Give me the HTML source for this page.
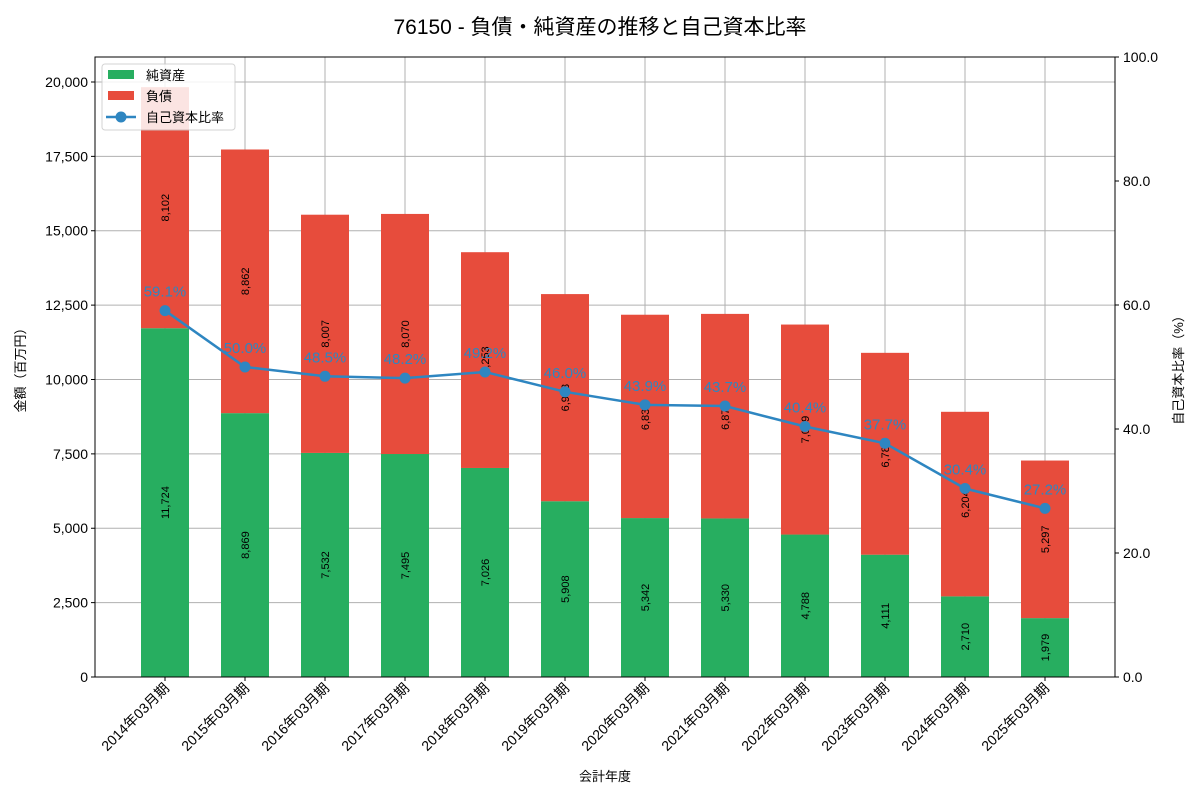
<!DOCTYPE html>
<html><head><meta charset="utf-8"><style>
body{margin:0;background:#fff;}
svg text{font-family:"Liberation Sans","Noto Sans CJK JP",sans-serif;}
</style></head><body>
<svg id="chart" width="1200" height="800" xmlns="http://www.w3.org/2000/svg">
<text x="600" y="34" text-anchor="middle" font-size="21" fill="#000">76150 - 負債・純資産の推移と自己資本比率</text>
<g id="grid"></g><g id="bars"></g><g id="line"></g><g id="axes"></g>
<text x="605" y="781" text-anchor="middle" font-size="13">会計年度</text>
<text transform="translate(25,367) rotate(-90)" text-anchor="middle" font-size="13">金額（百万円）</text>
<text transform="translate(1183,367) rotate(-90)" text-anchor="middle" font-size="13">自己資本比率（%）</text>
<g>
<rect x="102" y="64" width="133" height="66" fill="#fff" stroke="#ccc" rx="3" opacity="0.85"/>
<rect x="108" y="70" width="26" height="9" fill="#27ae60"/><text x="146" y="80" font-size="13">純資産</text>
<rect x="108" y="91" width="26" height="9" fill="#e74c3c"/><text x="146" y="101" font-size="13">負債</text>
<line x1="106" y1="117" x2="136" y2="117" stroke="#2e86c1" stroke-width="2.5"/><circle cx="121" cy="117" r="5.5" fill="#2e86c1"/><text x="146" y="122" font-size="13">自己資本比率</text>
</g>
</svg>
<script>
const categories=["2014年03月期","2015年03月期","2016年03月期","2017年03月期","2018年03月期","2019年03月期","2020年03月期","2021年03月期","2022年03月期","2023年03月期","2024年03月期","2025年03月期"];
const netAssets=[11724,8869,7532,7495,7026,5908,5342,5330,4788,4111,2710,1979];
const liabilities=[8102,8862,8007,8070,7253,6963,6835,6875,7059,6785,6204,5297];
const ratio=[59.1,50.0,48.5,48.2,49.2,46.0,43.9,43.7,40.4,37.7,30.4,27.2];
const leftTicks=[0,2500,5000,7500,10000,12500,15000,17500,20000];
const rightTicks=[0,20,40,60,80,100];
const NS="http://www.w3.org/2000/svg";
const L=95,R=1115,T=57,B=677,YMAX=20840;
const x=i=>165+80*i;
const y=v=>B-(v/YMAX)*(B-T);
const y2=v=>B-(v/100)*(B-T);
function el(tag,attrs,parent,text){const e=document.createElementNS(NS,tag);for(const k in attrs)e.setAttribute(k,attrs[k]);if(text!==undefined)e.textContent=text;document.getElementById(parent).appendChild(e);return e;}
const fmt=v=>v.toLocaleString('en-US');
leftTicks.forEach(t=>{const g=el('line',{x1:L,x2:R,y1:y(t),y2:y(t),stroke:'#b0b0b0','stroke-width':1},'grid');
const tl=el('text',{x:L-7,y:y(t)+5,'text-anchor':'end','font-size':14},'axes',fmt(t));
el('line',{x1:L-4,x2:L,y1:y(t),y2:y(t),stroke:'#000'},'axes');});
rightTicks.forEach(t=>{const tl=el('text',{x:R+8,y:y2(t)+5,'font-size':14},'axes',t.toFixed(1));
el('line',{x1:R,x2:R+4,y1:y2(t),y2:y2(t),stroke:'#000'},'axes');});
categories.forEach((c,i)=>{const g=el('line',{x1:x(i),x2:x(i),y1:T,y2:B,stroke:'#b0b0b0','stroke-width':1},'grid');
el('line',{x1:x(i),x2:x(i),y1:B,y2:B+4,stroke:'#000'},'axes');
const tl=el('text',{transform:`translate(${x(i)+5},${B+12}) rotate(-45)`,'text-anchor':'end','font-size':14},'axes',c);
const n=netAssets[i],l=liabilities[i];
const b1=el('rect',{x:x(i)-24,width:48,y:y(n),height:B-y(n),fill:'#27ae60'},'bars');
const b2=el('rect',{x:x(i)-24,width:48,y:y(n+l),height:y(n)-y(n+l),fill:'#e74c3c'},'bars');
const t1=el('text',{transform:`translate(${x(i)+4},${y(n/2)}) rotate(-90)`,'text-anchor':'middle','font-size':11},'bars',fmt(n));
const t2=el('text',{transform:`translate(${x(i)+4},${y(n+l/2)}) rotate(-90)`,'text-anchor':'middle','font-size':11},'bars',fmt(l));
});
const pts=ratio.map((r,i)=>x(i)+','+y2(r)).join(' ');
const pl=el('polyline',{points:pts,fill:'none',stroke:'#2e86c1','stroke-width':2.5},'line');
ratio.forEach((r,i)=>{const c=el('circle',{cx:x(i),cy:y2(r),r:5.5,fill:'#2e86c1'},'line');
const t=el('text',{x:x(i),y:y2(r)-14,'text-anchor':'middle','font-size':15,fill:'#2e86c1'},'line',r.toFixed(1)+'%');});
const fr=el('rect',{x:L,y:T,width:R-L,height:B-T,fill:'none',stroke:'#000','stroke-width':1},'axes');
</script>
</body></html>
